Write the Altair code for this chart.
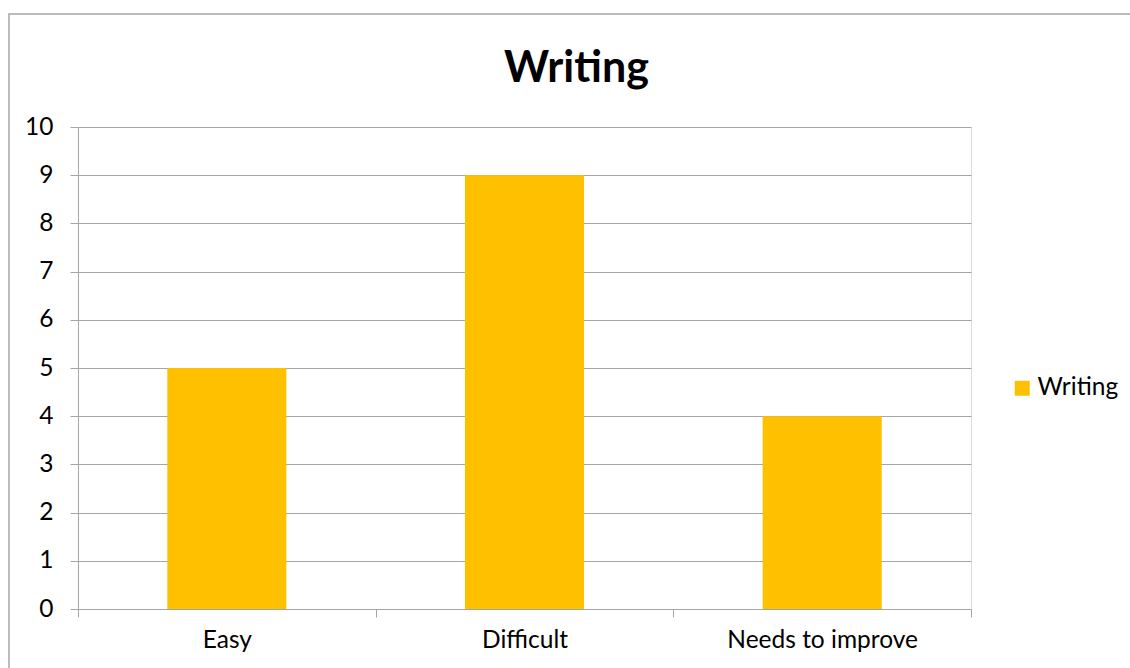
import altair as alt
import pandas as pd

categories = ["Easy", "Difficult", "Needs to improve"]
values = [5, 9, 4]
series = ["Writing", "Writing", "Writing"]
y_ticks = [0, 1, 2, 3, 4, 5, 6, 7, 8, 9, 10]

df = pd.DataFrame({"category": categories, "value": values, "series": series})
frame_df = pd.DataFrame({"frame": [0]})

FONT = "Lato"
GRAY = "#A6A6A6"
BAR = "#FFC000"

border = alt.Chart(frame_df).mark_rect(
    fill="transparent", stroke=GRAY, strokeWidth=1.5
).encode(
    x=alt.value(-69), x2=alt.value(1300), y=alt.value(-113), y2=alt.value(900)
)

bars = alt.Chart(df).mark_bar(width=alt.RelativeBandSize(0.4)).encode(
    x=alt.X(
        "category:N", sort=categories, title=None,
        scale=alt.Scale(paddingInner=0, paddingOuter=0),
        axis=alt.Axis(
            labelAngle=0, tickBand="extent", grid=False, labelLimit=600,
            labelFont=FONT, labelFontSize=24.5, labelColor="#000000",
            labelPadding=11, tickSize=8, tickColor=GRAY, domainColor=GRAY,
            domainWidth=1, tickWidth=1,
        ),
    ),
    y=alt.Y(
        "value:Q", title=None,
        scale=alt.Scale(domain=[0, 10], nice=False),
        axis=alt.Axis(
            values=y_ticks, grid=True, gridColor=GRAY, gridWidth=1,
            labelFont=FONT, labelFontSize=24.5, labelColor="#000000",
            labelPadding=17, tickSize=8, tickColor=GRAY, domainColor=GRAY,
            domainWidth=1, tickWidth=1,
        ),
    ),
    color=alt.Color(
        "series:N", scale=alt.Scale(range=[BAR]),
        legend=alt.Legend(
            title=None, orient="none", legendX=932, legendY=249,
            symbolType="square", symbolSize=225, symbolStrokeWidth=0,
            labelFont=FONT, labelFontSize=24.5, labelColor="#000000",
            labelOffset=3, padding=0, labelLimit=300,
        ),
    ),
)

chart = alt.layer(border, bars).properties(
    width=893,
    height=482,
    autosize=alt.AutoSizeParams(type="none"),
    padding={"left": 78, "top": 127, "right": 159, "bottom": 59},
    title=alt.Title(
        "Writing", font=FONT, fontSize=43, fontWeight="bold", color="#000000",
        anchor="middle", dx=52, offset=-78,
    ),
).configure_view(stroke="transparent").configure(background="#FFFFFF")

chart.save("out.html", embed_options={"renderer": "svg", "actions": False})
